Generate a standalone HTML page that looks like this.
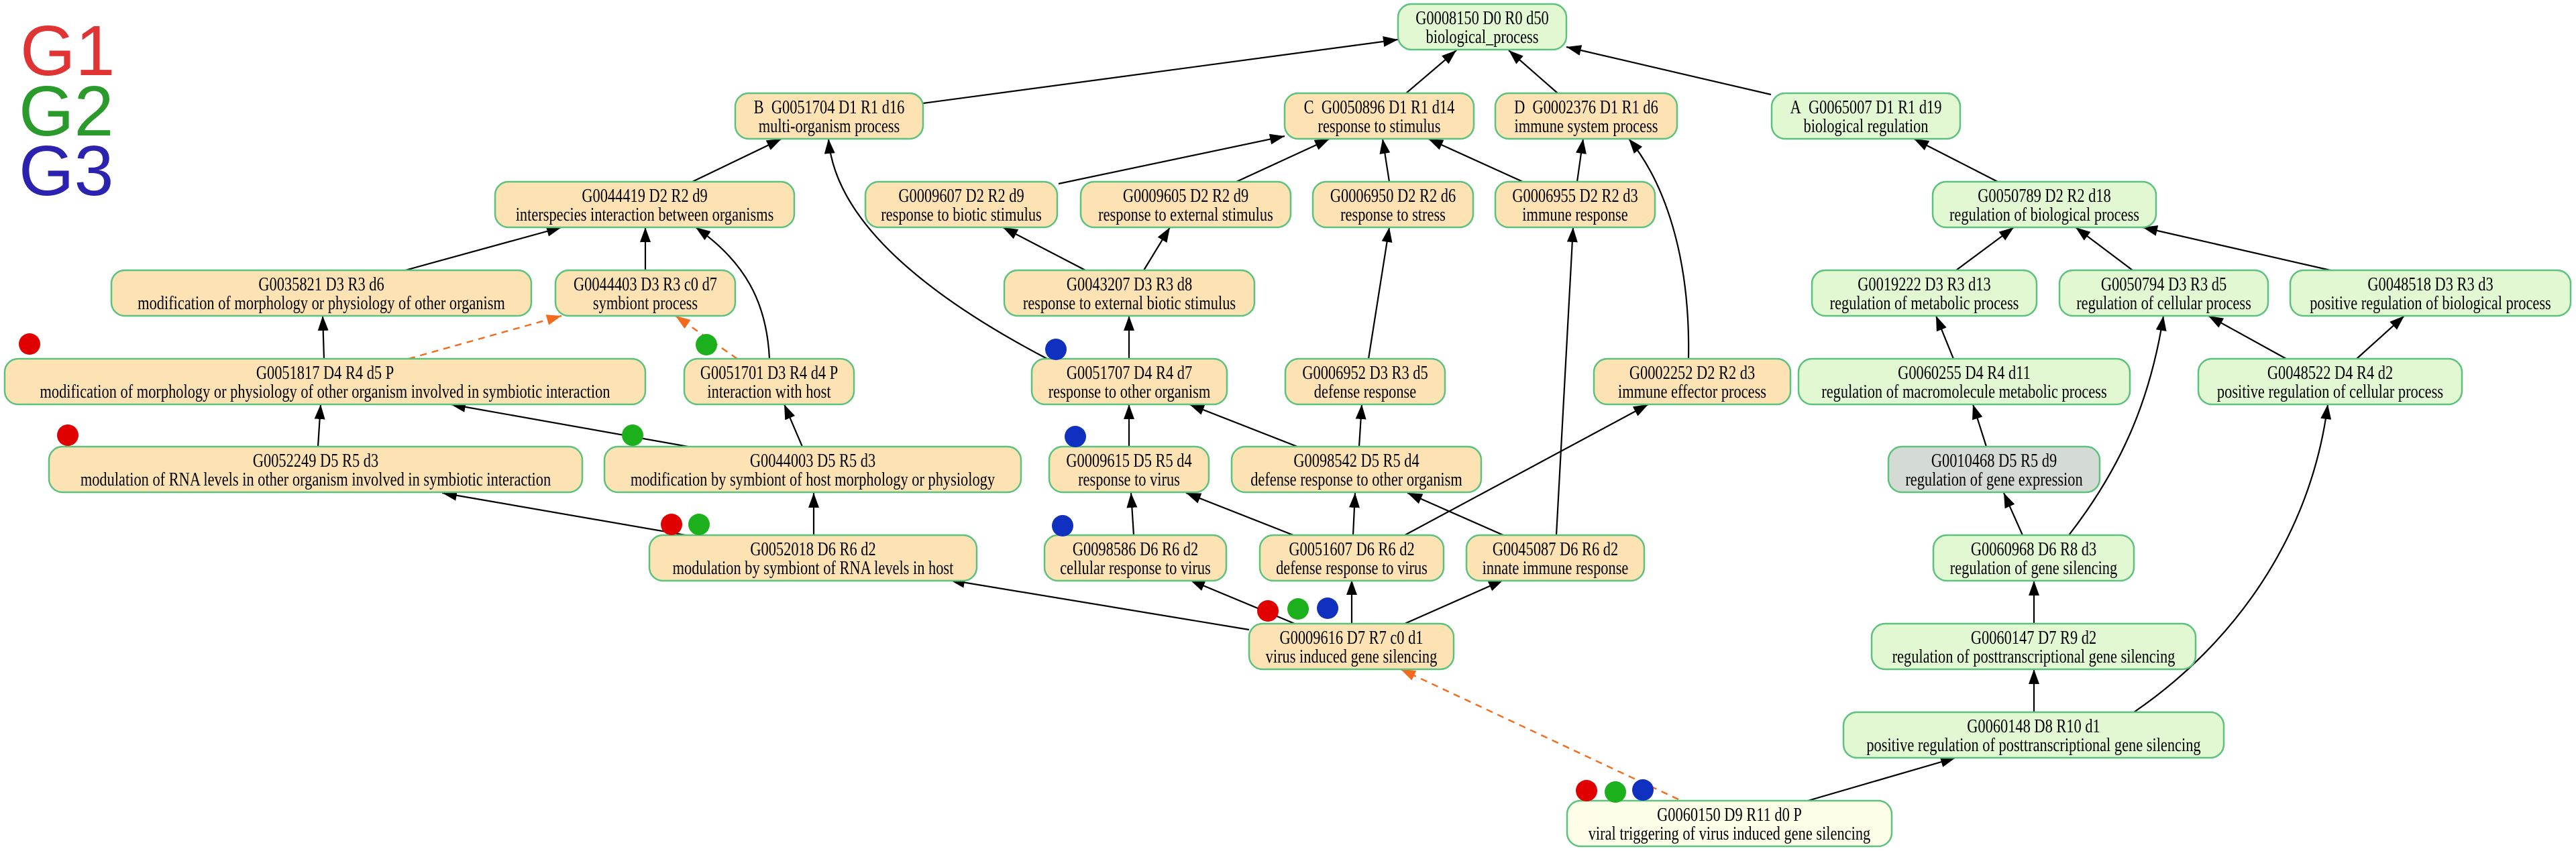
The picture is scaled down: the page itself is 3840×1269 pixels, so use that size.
<!DOCTYPE html>
<html><head><meta charset="utf-8"><style>
html,body{margin:0;padding:0;background:#fff;width:3840px;height:1269px;overflow:hidden}
svg{display:block}
</style></head><body>
<svg id="s" xmlns="http://www.w3.org/2000/svg" width="3840" height="1269" viewBox="0 0 3840 1269">
<defs>
<marker id="ab" markerUnits="userSpaceOnUse" markerWidth="24" markerHeight="16" refX="22" refY="8" orient="auto"><path d="M0,0 L22,8 L0,16 z" fill="#000"/></marker>
<marker id="ao" markerUnits="userSpaceOnUse" markerWidth="24" markerHeight="16" refX="22" refY="8" orient="auto"><path d="M0,0 L22,8 L0,16 z" fill="#f26a1b"/></marker>
</defs>
<g font-family="Liberation Sans, sans-serif" font-size="106">
<text x="30" y="112" fill="#e03434">G1</text>
<text x="28" y="202" fill="#2a9a2a">G2</text>
<text x="28" y="291" fill="#2c22b0">G3</text>
</g>
<g id="edges" fill="none" stroke="#000" stroke-width="2.2"></g>
<g id="nodes"></g>
<g id="dots"></g>
</svg>
<script>
var NS="http://www.w3.org/2000/svg";
function el(t,a,p){var e=document.createElementNS(NS,t);for(var k in a)e.setAttribute(k,a[k]);p.appendChild(e);return e;}
var rows=[6,139,271,403,535,666,798,930,1062,1194];
var O="#fde3b4",G="#e2f8d2",Y="#fefee8",Gr="#d4dad4";
var S="\u00a0\u00a0";
var nodes=[
[2084,2335,0,G,"G0008150 D0 R0 d50","biological_process"],
[1096,1376,1,O,"B"+S+"G0051704 D1 R1 d16","multi-organism process"],
[1915,2197,1,O,"C"+S+"G0050896 D1 R1 d14","response to stimulus"],
[2229,2500,1,O,"D"+S+"G0002376 D1 R1 d6","immune system process"],
[2641,2922,1,G,"A"+S+"G0065007 D1 R1 d19","biological regulation"],
[738,1184,2,O,"G0044419 D2 R2 d9","interspecies interaction between organisms"],
[1290,1576,2,O,"G0009607 D2 R2 d9","response to biotic stimulus"],
[1611,1924,2,O,"G0009605 D2 R2 d9","response to external stimulus"],
[1957,2196,2,O,"G0006950 D2 R2 d6","response to stress"],
[2229,2467,2,O,"G0006955 D2 R2 d3","immune response"],
[2881,3214,2,G,"G0050789 D2 R2 d18","regulation of biological process"],
[166,792,3,O,"G0035821 D3 R3 d6","modification of morphology or physiology of other organism"],
[828,1096,3,O,"G0044403 D3 R3 c0 d7","symbiont process"],
[1497,1870,3,O,"G0043207 D3 R3 d8","response to external biotic stimulus"],
[2701,3036,3,G,"G0019222 D3 R3 d13","regulation of metabolic process"],
[3070,3381,3,G,"G0050794 D3 R3 d5","regulation of cellular process"],
[3414,3832,3,G,"G0048518 D3 R3 d3","positive regulation of biological process"],
[7,962,4,O,"G0051817 D4 R4 d5 P","modification of morphology or physiology of other organism involved in symbiotic interaction"],
[1020,1273,4,O,"G0051701 D3 R4 d4 P","interaction with host"],
[1538,1829,4,O,"G0051707 D4 R4 d7","response to other organism"],
[1916,2154,4,O,"G0006952 D3 R3 d5","defense response"],
[2376,2669,4,O,"G0002252 D2 R2 d3","immune effector process"],
[2681,3175,4,G,"G0060255 D4 R4 d11","regulation of macromolecule metabolic process"],
[3277,3670,4,G,"G0048522 D4 R4 d2","positive regulation of cellular process"],
[73,868,5,O,"G0052249 D5 R5 d3","modulation of RNA levels in other organism involved in symbiotic interaction"],
[901,1522,5,O,"G0044003 D5 R5 d3","modification by symbiont of host morphology or physiology"],
[1564,1802,5,O,"G0009615 D5 R5 d4","response to virus"],
[1836,2208,5,O,"G0098542 D5 R5 d4","defense response to other organism"],
[2815,3130,5,Gr,"G0010468 D5 R5 d9","regulation of gene expression"],
[968,1456,6,O,"G0052018 D6 R6 d2","modulation by symbiont of RNA levels in host"],
[1557,1828,6,O,"G0098586 D6 R6 d2","cellular response to virus"],
[1878,2152,6,O,"G0051607 D6 R6 d2","defense response to virus"],
[2186,2451,6,O,"G0045087 D6 R6 d2","innate immune response"],
[2882,3181,6,G,"G0060968 D6 R8 d3","regulation of gene silencing"],
[1862,2167,7,O,"G0009616 D7 R7 c0 d1","virus induced gene silencing"],
[2790,3273,7,G,"G0060147 D7 R9 d2","regulation of posttranscriptional gene silencing"],
[2748,3315,8,G,"G0060148 D8 R10 d1","positive regulation of posttranscriptional gene silencing"],
[2336,2820,9,Y,"G0060150 D9 R11 d0 P","viral triggering of virus induced gene silencing"]
];
var ng=document.getElementById("nodes");
nodes.forEach(function(n){
 var x=n[0],w=n[1]-n[0],y=rows[n[2]];
 el("rect",{x:x,y:y,width:w,height:68,rx:20,ry:20,fill:n[3],stroke:"#5cc27e","stroke-width":2.5},ng);
 [[n[4],y+30],[n[5],y+58]].forEach(function(t){
  var tx=el("text",{x:x+w/2,y:t[1],"text-anchor":"middle","font-family":"Liberation Serif, serif","font-size":28,fill:"#000"},ng);
  tx.textContent=t[0];
  var L=tx.getComputedTextLength();
  var target=Math.min(L*0.8,w-26);
  if(target>0){tx.setAttribute("textLength",target);tx.setAttribute("lengthAdjust","spacingAndGlyphs");}
 });
});
var eg=document.getElementById("edges");
function L(x1,y1,x2,y2,o){el("line",{x1:x1,y1:y1,x2:x2,y2:y2,"marker-end":o?"url(#ao)":"url(#ab)",stroke:o?"#f26a1b":"#000","stroke-dasharray":o?"10,8":"none","stroke-width":o?2.4:2.2},eg);}
function P(d){el("path",{d:d,"marker-end":"url(#ab)"},eg);}
var E=[
[1376,154,2084,59],[2096,139,2171,75],[2322,139,2249,75],[2640,141,2335,70],
[1032,271,1165,207],[1578,274,1915,203],[1843,271,1982,207],[2071,271,2061,207],[2270,271,2129,207],[2351,271,2360,207],
[604,403,837,339],[962,403,962,339],[1618,403,1495,339],[1705,403,1744,339],
[2040,535,2071,339],[2320,798,2345,339],[483,535,481,471],[1683,535,1683,471],
[474,666,478,603],[1026,666,672,603],[1196,666,1169,603],[1683,666,1683,603],[1934,666,1773,603],[2026,666,2030,603],
[2094,798,2457,603],[1022,798,659,735],[1213,798,1213,735],[1690,798,1686,735],[1928,798,1768,735],[2017,798,2020,735],[2241,798,2098,735],
[1862,939,1416,865],[1930,930,1774,865],[2015,930,2015,865],[2094,930,2241,865],
[2978,271,2853,207],[2916,403,3002,339],[3179,403,3094,339],[3474,403,3194,339],
[2912,535,2886,471],[3408,535,3292,471],[3513,535,3584,471],
[2961,666,2941,603],[3015,798,2987,735],[3032,930,3032,866],[3032,1062,3032,998],[2695,1194,2915,1130]
];
E.forEach(function(e){L(e[0],e[1],e[2],e[3]);});
P("M1561,535 C1380,440 1245,330 1235,207");
P("M2517,535 C2520,380 2480,270 2428,207");
P("M1147,535 C1143,450 1110,390 1037,339");
P("M3084,798 C3160,700 3205,600 3225,471");
P("M3181,1062 C3330,960 3445,800 3470,603");
L(609,535,837,471,1);L(1099,535,1007,471,1);L(2502,1192,2088,998,1);
var dg=document.getElementById("dots");
var R="#e00000",Gn="#1cb01c",B="#1030c0";
[[44,513,R],[1053,514,Gn],[101,649,R],[943,649,Gn],[1001,782,R],[1042,782,Gn],[1574,521,B],[1603,651,B],[1584,784,B],
[1890,911,R],[1935,908,Gn],[1979,907,B],[2365,1179,R],[2408,1181,Gn],[2449,1178,B]].forEach(function(d){
 el("circle",{cx:d[0],cy:d[1],r:16,fill:d[2]},dg);});
</script>
</body></html>
